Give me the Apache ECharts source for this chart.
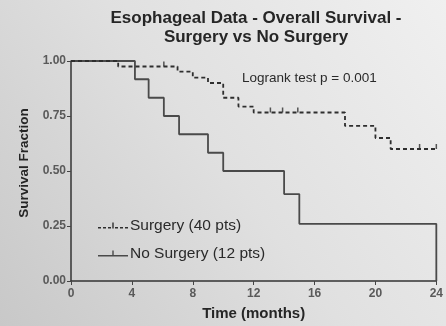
<!DOCTYPE html>
<html>
<head>
<meta charset="utf-8">
<script src="https://cdn.jsdelivr.net/npm/echarts@6/dist/echarts.min.js"></script>
<style>
  html, body { margin: 0; padding: 0; }
  #chart { width: 446px; height: 326px; }
</style>
</head>
<body>
<div id="chart"></div>
<script>
// Kaplan-Meier estimates: [time in months, survival fraction after the event]
const surgeryCurve = [
  [0, 1], [3.1, 0.975], [7, 0.952], [8, 0.924], [9, 0.9], [10, 0.833],
  [11, 0.793], [12, 0.766], [18, 0.705], [20, 0.65], [21, 0.6], [24, 0.6]
];
const noSurgeryCurve = [
  [0, 1], [4.2, 0.917], [5.1, 0.833], [6.1, 0.75], [7.1, 0.667], [9, 0.583],
  [10, 0.5], [14, 0.395], [15, 0.26], [24, 0]
];
// Censored observations on the surgery arm
const surgeryCensored = [
  [6.1, 0.975], [13.1, 0.766], [13.9, 0.766], [14.9, 0.766], [22.9, 0.6], [24, 0.6]
];
const seriesNames = ['Surgery (40 pts)', 'No Surgery (12 pts)'];
const timeTicks = [0, 4, 8, 12, 16, 20, 24];
const fractionTicks = [0, 0.25, 0.5, 0.75, 1];

const ink = '#2e2e2e';
const solidInk = '#4a4a4a';

// Legend swatches: short line with a censor tick in the middle
const dashedIcon = 'path://M0,4.6h3v1.4h-3z M5,4.6h3v1.4h-3z M10,4.6h3v1.4h-3z M14.3,0h1.4v6h-1.4z M17,4.6h3v1.4h-3z M22,4.6h3v1.4h-3z M27,4.6h3v1.4h-3z';
const solidIcon = 'path://M0,4.6h30v1.4h-30z M14.3,0h1.4v6h-1.4z';

const chart = echarts.init(document.getElementById('chart'), null, { renderer: 'canvas' });
chart.setOption({
  animation: false,
  backgroundColor: {
    type: 'linear', x: 0, y: 1, x2: 1, y2: 0,
    colorStops: [
      { offset: 0, color: '#c8c8c8' },
      { offset: 0.5, color: '#e0e0e0' },
      { offset: 1, color: '#f0f0f0' }
    ]
  },
  title: [
    {
      text: 'Esophageal Data - Overall Survival -\nSurgery vs No Surgery',
      left: 256, top: 9, padding: 0, textAlign: 'center',
      textStyle: { fontFamily: 'Liberation Sans', fontSize: 17, fontWeight: 'bold', color: '#262626', lineHeight: 19 }
    },
    {
      text: 'Logrank test p = 0.001',
      left: 242, top: 71, padding: 0,
      textStyle: { fontFamily: 'Liberation Sans', fontSize: 13.5, fontWeight: 'normal', color: '#2a2a2a' }
    }
  ],
  legend: {
    orient: 'vertical',
    left: 98, top: 217.5,
    padding: 0,
    itemWidth: 30, itemHeight: 6,
    itemGap: 12,
    textStyle: { fontFamily: 'Liberation Sans', fontSize: 15.5, color: '#2a2a2a', padding: [0, 0, 0, -3] },
    data: [
      { name: seriesNames[0], icon: dashedIcon },
      { name: seriesNames[1], icon: solidIcon }
    ]
  },
  grid: { left: 71, right: 6, top: 61, bottom: 43 },
  xAxis: {
    type: 'value', min: timeTicks[0], max: timeTicks[timeTicks.length - 1], interval: 4,
    name: 'Time (months)', nameLocation: 'middle', nameGap: 25,
    nameTextStyle: { fontFamily: 'Liberation Sans', fontSize: 15, fontWeight: 'bold', color: '#262626' },
    axisLine: { lineStyle: { color: '#333', width: 1.5 } },
    axisTick: { length: 4, lineStyle: { color: '#444' } },
    axisLabel: {
      margin: 7, fontFamily: 'Liberation Sans', fontSize: 12, fontWeight: 'bold', color: '#5a5a5a',
      formatter: v => timeTicks.includes(v) ? String(v) : ''
    },
    splitLine: { show: false }
  },
  yAxis: {
    type: 'value', min: fractionTicks[0], max: fractionTicks[fractionTicks.length - 1], interval: 0.25,
    name: 'Survival Fraction', nameLocation: 'middle', nameGap: 40,
    nameTextStyle: { fontFamily: 'Liberation Sans', fontSize: 13.5, fontWeight: 'bold', color: '#262626', padding: [0, 0, 0, 16] },
    axisLine: { show: true, lineStyle: { color: '#333', width: 1.5 } },
    axisTick: { show: true, length: 4, lineStyle: { color: '#444' } },
    axisLabel: {
      margin: 5, fontFamily: 'Liberation Sans', fontSize: 12, fontWeight: 'bold', color: '#5a5a5a',
      formatter: v => v.toFixed(2)
    },
    splitLine: { show: false }
  },
  series: [
    {
      name: seriesNames[1], type: 'line', step: 'end', data: noSurgeryCurve,
      symbol: 'none', z: 2,
      lineStyle: { color: solidInk, width: 1.8 },
      itemStyle: { color: solidInk }
    },
    {
      name: seriesNames[0], type: 'line', step: 'end', data: surgeryCurve,
      symbol: 'none', z: 3,
      lineStyle: { color: ink, width: 1.8, type: [4, 3] },
      itemStyle: { color: ink }
    },
    {
      name: seriesNames[0] + ' censored', type: 'scatter', data: surgeryCensored,
      symbol: 'rect', symbolSize: [1.5, 5], symbolOffset: [0, -2.5], z: 4,
      itemStyle: { color: ink }, silent: true
    }
  ]
});
</script>
</body>
</html>
